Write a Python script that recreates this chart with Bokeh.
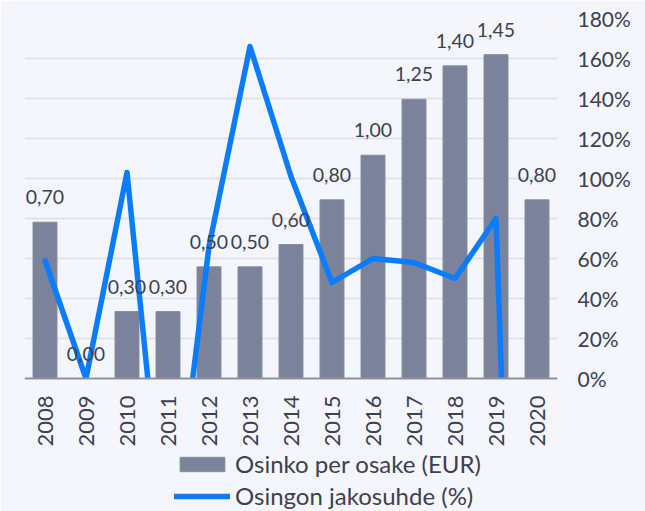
import math
from bokeh.plotting import figure
from bokeh.models import (ColumnDataSource, FactorRange, Range1d, FixedTicker,
                          PrintfTickFormatter, LabelSet, Legend, LegendItem,
                          BoxAnnotation, Span)
from bokeh.core.properties import value
from bokeh.embed import file_html
from bokeh.resources import INLINE

years = ["2008", "2009", "2010", "2011", "2012", "2013", "2014", "2015", "2016",
         "2017", "2018", "2019", "2020"]
dividend = [0.70, 0.00, 0.30, 0.30, 0.50, 0.50, 0.60, 0.80, 1.00, 1.25, 1.40, 1.45, 0.80]
payout = [59, 0, 103, -100, 66, 166, 101, 48, 60, 58, 50, 80, -520]
pct_ticks = [0, 20, 40, 60, 80, 100, 120, 140, 160, 180]

bar_name = "Osinko per osake (EUR)"
line_name = "Osingon jakosuhde (%)"

BG = "#f5f6fb"
TXT = "#3d4150"
FONT = "Lato"

# plot area: 0..180 % spans 360 px; extra 133 px below the baseline hold the
# category labels and the legend
PCT_MAX = 180
PCT_MIN = -PCT_MAX * 133 / 360
EUR_MAX = 1.612
EUR_MIN = PCT_MIN / PCT_MAX * EUR_MAX

src = ColumnDataSource(dict(
    year=years, dividend=dividend, payout=payout, zero=[0] * len(years),
    label=[f"{v:.2f}".replace(".", ",") for v in dividend],
))

p = figure(x_range=FactorRange(*years, range_padding=0),
           y_range=Range1d(PCT_MIN, PCT_MAX),
           frame_width=533, frame_height=493,
           y_axis_location="right", x_axis_location=None,
           output_backend="svg", toolbar_location=None,
           background_fill_color=BG, border_fill_color=BG,
           min_border_left=24, min_border_top=18, min_border_right=88, min_border_bottom=0)
p.outline_line_color = None
p.extra_y_ranges = {"eur": Range1d(EUR_MIN, EUR_MAX)}

bars = p.vbar(x="year", top="dividend", bottom=0, width=0.585, source=src, y_range_name="eur",
              fill_color="#7a8399", line_color="#858ea3", line_width=1)
line = p.line(x="year", y="payout", source=src, line_color="#0a7cff", line_width=5.5,
              line_join="round", line_cap="round")

# hide whatever of the line falls below 0 %
p.add_layout(BoxAnnotation(top=0, fill_color=BG, fill_alpha=1, line_color=None))
p.add_layout(Span(location=0, dimension="width", line_color="#8d939e", line_width=2))

labels = LabelSet(x="year", y="dividend", text="label", source=src, y_range_name="eur",
                  text_align="center", text_baseline="alphabetic", y_offset=18,
                  text_font=value(FONT), text_font_size="19.5px", text_color=TXT)
p.add_layout(labels)

year_labels = LabelSet(x="year", y="zero", text="year", source=src,
                       angle=math.pi / 2, text_align="right", text_baseline="middle",
                       y_offset=-17, text_font=value(FONT), text_font_size="22px",
                       text_color=TXT)
p.add_layout(year_labels)

yax = p.yaxis[0]
yax.ticker = FixedTicker(ticks=pct_ticks)
yax.formatter = PrintfTickFormatter(format="%d%%")
yax.axis_line_color = None
yax.major_tick_line_color = None
yax.minor_tick_line_color = None
yax.major_label_standoff = 14
yax.major_label_text_font = FONT
yax.major_label_text_font_size = "21px"
yax.major_label_text_color = TXT

p.xgrid.visible = False
p.ygrid.grid_line_color = "#dcdee5"
p.ygrid.grid_line_width = 1.5
p.ygrid.ticker = FixedTicker(ticks=pct_ticks)

legend = Legend(items=[LegendItem(label=bar_name, renderers=[bars]),
                       LegendItem(label=line_name, renderers=[line])],
                orientation="vertical", location=(150, 1),
                glyph_width=56, glyph_height=18, label_standoff=5,
                label_text_font=FONT, label_text_font_size="24px", label_text_color=TXT,
                spacing=3, padding=0, margin=0, border_line_color=None,
                background_fill_alpha=0)
p.add_layout(legend)

open("out.html", "w").write(file_html(p, INLINE))
